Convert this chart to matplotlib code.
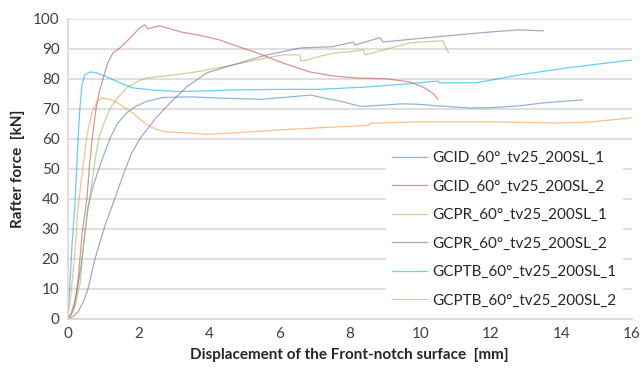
import numpy as np
import matplotlib
matplotlib.use('Agg')
import matplotlib.pyplot as plt

plt.rcParams['font.family'] = ['Lato', 'DejaVu Sans']

# datos (desplazamiento [mm], fuerza [kN])
gcid_1_x = [0, 0.1, 0.2, 0.3, 0.4, 0.5, 0.57, 0.71, 0.85, 1.0, 1.19, 1.4, 1.67, 1.95, 2.24, 2.7,
            3.5, 4.5, 5.5, 6.3, 6.9, 7.2, 7.8, 8.3, 9.0, 9.5, 10.0, 10.5, 11.4, 12.0, 12.8,
            13.5, 14.6]
gcid_1_y = [0, 2, 6, 12, 20, 30, 37, 44, 49, 54, 60, 65, 68.7, 71, 72.5, 73.8,
            74, 73.5, 73.2, 74, 74.6, 73.8, 72.4, 70.8, 71.3, 71.7, 71.5, 71, 70.3, 70.4, 71,
            72, 73]

gcid_2_x = [0, 0.1, 0.2, 0.3, 0.4, 0.47, 0.54, 0.62, 0.71, 0.8, 0.9, 1.0, 1.12, 1.28, 1.5,
            1.8, 2.04, 2.18, 2.27, 2.6, 3.18, 3.74, 4.3, 4.7, 5.36, 6.1, 6.87, 7.5, 8.2, 9.05,
            9.7, 10.07, 10.35, 10.5]
gcid_2_y = [0, 1.5, 5, 14, 28, 34, 40, 52, 62, 70, 76, 80, 85, 88.7, 90.5,
            94, 97, 98, 96.7, 97.7, 95.7, 94.5, 93, 91.3, 88.7, 85.3, 82.3, 81, 80.3, 80,
            79, 77.3, 75.3, 73.3]

gcpr_1_x = [0, 0.1, 0.2, 0.35, 0.45, 0.55, 0.68, 0.8, 0.9, 1.05, 1.19, 1.4, 1.67, 1.95, 2.24,
            3.0, 3.74, 4.7, 5.65, 6.1, 6.58, 6.62, 6.8, 7.15, 7.5, 8.2, 8.38, 8.44, 9.7, 10.64,
            10.8]
gcpr_1_y = [0, 1.5, 4, 12, 25, 35, 45, 55, 61, 66, 70, 73.5, 77, 79, 80.3,
            81.3, 82.5, 84.7, 87, 88, 88, 86, 86.3, 87.5, 88.5, 89.3, 89.7, 88, 92, 92.7,
            88.7]

gcpr_2_x = [0, 0.15, 0.3, 0.45, 0.57, 0.77, 1.05, 1.33, 1.6, 1.8, 2.04, 2.5, 2.9,
            3.37, 3.94, 4.7, 5.65, 6.6, 7.5, 8.1, 8.15, 8.85, 8.95, 10.2, 11.1, 12.06, 12.8,
            13.5]
gcpr_2_y = [0, 0.8, 2.5, 6, 10, 20, 31, 40, 49, 55, 60, 67, 72,
            77.3, 82, 84.7, 88, 90.3, 90.7, 92.3, 91.3, 93.7, 92.3, 93.7, 94.7, 95.7, 96.3,
            96]

gcptb_1_x = [0, 0.05, 0.12, 0.2, 0.25, 0.3, 0.34, 0.4, 0.48, 0.62, 0.82, 1.1, 1.47, 1.85,
             2.4, 3.1, 4.0, 4.7, 6.0, 7.1, 8.5, 10.0, 10.5, 10.55, 11.6, 12.8, 14.2, 16.0]
gcptb_1_y = [0, 10, 25, 38, 50, 62, 70, 78, 81.3, 82.3, 82, 80.7, 78.7, 77, 76.3,
             75.8, 76, 76.3, 76.5, 76.5, 77.3, 78.7, 79.3, 78.7, 78.7, 81.3, 83.7, 86.3]

gcptb_2_x = [0, 0.1, 0.2, 0.28, 0.4, 0.54, 0.68, 0.82, 0.95, 1.1, 1.28, 1.5, 1.85, 2.24,
             2.5, 2.8, 3.4, 3.94, 4.7, 6.0, 7.15, 8.5, 8.6, 10.0, 12.0, 13.8, 14.7, 16.0]
gcptb_2_y = [0, 10, 22, 36, 48, 61, 68.5, 72.3, 73.6, 73.4, 72.8, 71.3, 68.5, 64.7,
             63.2, 62.3, 62, 61.5, 62, 63, 63.7, 64.5, 65.2, 65.7, 65.7, 65.3, 65.5, 67]

etiquetas = ['GCID_60°_tv25_200SL_1', 'GCID_60°_tv25_200SL_2',
             'GCPR_60°_tv25_200SL_1', 'GCPR_60°_tv25_200SL_2',
             'GCPTB_60°_tv25_200SL_1', 'GCPTB_60°_tv25_200SL_2']
colores = ['#4F81BD', '#C0504D', '#9BBB59', '#8064A2', '#00B0F0', '#F79646']

series = [(gcid_1_x, gcid_1_y), (gcid_2_x, gcid_2_y), (gcpr_1_x, gcpr_1_y),
          (gcpr_2_x, gcpr_2_y), (gcptb_1_x, gcptb_1_y), (gcptb_2_x, gcptb_2_y)]

fig = plt.figure(figsize=(6.4, 3.77), dpi=100)
ax = fig.add_axes([0.106, 0.154, 0.881, 0.796])

for (x, y), c, lab in zip(series, colores, etiquetas):
    ax.plot(x, y, color=c, lw=0.9, alpha=0.6, label=lab)

ax.set_xlim(0, 16)
ax.set_ylim(0, 100)
ax.set_xticks(np.arange(0, 17, 2))
ax.set_yticks(np.arange(0, 101, 10))
ax.grid(axis='y', color='#D9D9D9', lw=1.2)
ax.set_axisbelow(True)
for s in ['top', 'right']:
    ax.spines[s].set_visible(False)
ax.spines['left'].set_color('#D9D9D9')
ax.spines['bottom'].set_color('#D9D9D9')
ax.spines['left'].set_linewidth(1.2)
ax.spines['bottom'].set_linewidth(1.2)
ax.tick_params(length=0, labelsize=11, colors='#404040', pad=6)

ax.set_xlabel('Displacement of the Front-notch surface  [mm]', fontsize=11,
              fontweight='bold', color='#262626', labelpad=5)
ax.set_ylabel('Rafter force  [kN]', fontsize=11, fontweight='bold',
              color='#262626', labelpad=6)

leg = ax.legend(loc='upper left', bbox_to_anchor=(0.564, 0.58), fontsize=11,
                frameon=True, fancybox=False, framealpha=1, edgecolor='none',
                handlelength=2.3, handletextpad=0.35, labelspacing=0.95,
                borderaxespad=0, borderpad=0.4)
for t in leg.get_texts():
    t.set_color('#262626')

plt.savefig('out.png', dpi=100)
